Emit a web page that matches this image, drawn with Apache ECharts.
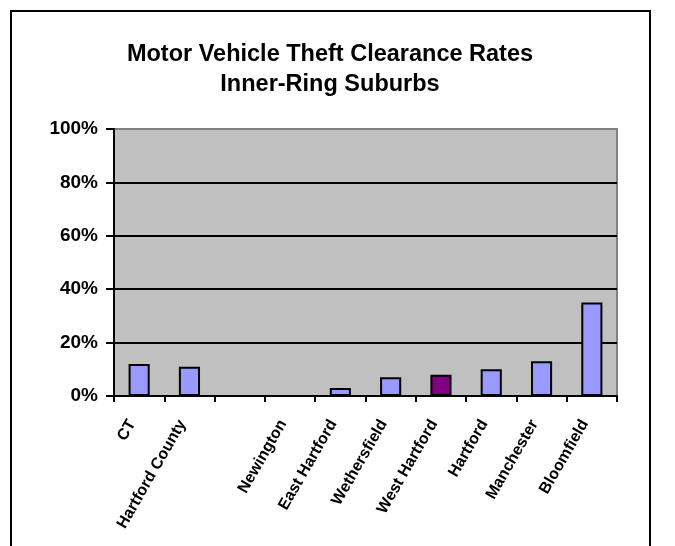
<!DOCTYPE html>
<html style="height: 100%">
	<head>
		<meta charset="utf-8">
	</head>
	<body style="height: 100%; margin: 0; background: #fff">
		<div id="container" style="width: 675px; height: 546px"></div>
		<script src="https://cdn.jsdelivr.net/npm/echarts@6/dist/echarts.min.js" type="text/javascript" charset="utf-8"></script>
		<script type="text/javascript">
			// chart data
			var towns = ['CT', 'Hartford County', '', 'Newington', 'East Hartford', 'Wethersfield', 'West Hartford', 'Hartford', 'Manchester', 'Bloomfield'];
			var clearance = [12, 11, null, 0, 3, 7, 8, 10, 13, 35]; // percent
			var yTicks = [0, 20, 40, 60, 80, 100];
			var highlightTown = 'West Hartford';

			var font = 'Liberation Sans, Arial, sans-serif';
			var myChart = echarts.init(document.getElementById('container'));

			var option = {
				backgroundColor: '#fff',
				animation: false,
				title: {
					text: 'Motor Vehicle Theft Clearance Rates\nInner-Ring Suburbs',
					left: 325,
					top: 35,
					textAlign: 'center',
					textStyle: {
						fontFamily: font,
						fontSize: 23.5,
						fontWeight: 'bold',
						lineHeight: 30,
						color: '#000'
					}
				},
				graphic: [{
					type: 'rect',
					shape: {x: 11, y: 11, width: 639, height: 600},
					style: {fill: 'none', stroke: '#000', lineWidth: 2},
					silent: true
				}],
				grid: {
					left: 114,
					right: 58,
					top: 129,
					bottom: 150,
					show: true,
					backgroundColor: '#C0C0C0',
					borderColor: '#808080',
					borderWidth: 2
				},
				xAxis: {
					type: 'category',
					data: towns,
					axisLine: {lineStyle: {color: '#000', width: 2}},
					axisTick: {show: true, length: 6, lineStyle: {color: '#000', width: 2}},
					axisLabel: {
						interval: 0,
						rotate: 60,
						margin: 13,
						padding: [0, 14, 0, 0],
						fontFamily: font,
						fontSize: 16,
						fontWeight: 'bold',
						color: '#000'
					}
				},
				yAxis: {
					type: 'value',
					min: yTicks[0],
					max: yTicks[yTicks.length - 1],
					interval: 20,
					axisLine: {show: true, lineStyle: {color: '#000', width: 2}},
					axisTick: {show: true, length: 8, lineStyle: {color: '#000', width: 2}},
					axisLabel: {
						formatter: '{value}%',
						margin: 16,
						fontFamily: font,
						fontSize: 19,
						fontWeight: 'bold',
						color: '#000'
					},
					splitLine: {
						show: true,
						lineStyle: {
							color: ['#000', '#000', '#000', '#000', '#000', '#808080'],
							width: 2
						}
					}
				},
				series: [{
					type: 'bar',
					data: clearance,
					barWidth: '42%',
					itemStyle: {
						color: function (p) {
							return towns[p.dataIndex] === highlightTown ? '#800080' : '#9999FF';
						},
						borderColor: '#000',
						borderWidth: 2
					}
				}]
			};
			myChart.setOption(option);
		</script>
	</body>
</html>
